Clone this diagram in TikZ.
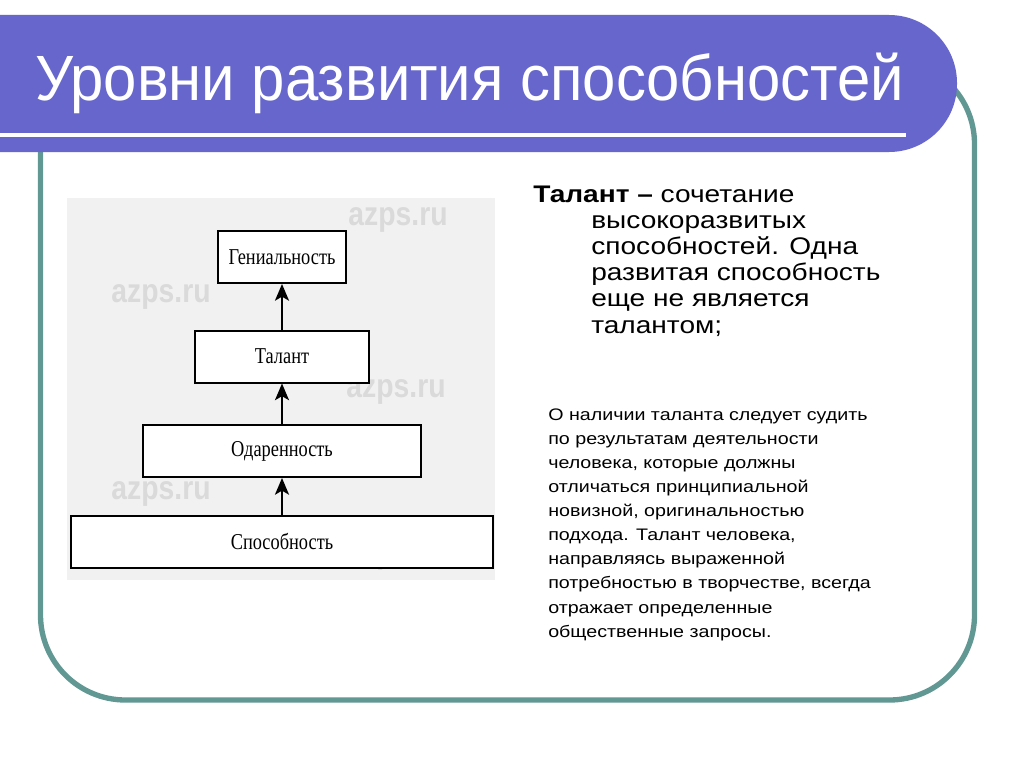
\documentclass[tikz,border=0pt]{standalone}
\usepackage{fontspec}
\setmainfont{Liberation Sans}
\newfontfamily\boxserif{Liberation Serif}
\usetikzlibrary{arrows.meta}
\definecolor{banner}{RGB}{102,102,204}
\definecolor{frameteal}{RGB}{98,152,148}
\definecolor{diagbg}{RGB}{241,241,241}
\definecolor{wmark}{RGB}{218,218,218}
\begin{document}
\begin{tikzpicture}[x=0.75pt,y=-0.75pt,
  levelbox/.style={draw=black, fill=white, line width=1.5pt, minimum height=39pt, inner sep=0pt, font=\boxserif\fontsize{17}{20}\selectfont},
  uparrow/.style={-{Stealth[length=12.5pt,width=10.5pt,inset=3pt]}, line width=1.6pt},
  watermark/.style={text=wmark, font=\bfseries\fontsize{25}{30}\selectfont, inner sep=0pt}]
\useasboundingbox (0,0) rectangle (1024,767);
\fill[white] (0,0) rectangle (1024,767);
% frame
\draw[frameteal, line width=4pt, rounded corners=63.75pt] (40.5,59) rectangle (974.5,700);
% banner
\fill[banner, rounded corners=51pt] (-100,15) rectangle (957,152);
\fill[white] (0,133.3) rectangle (906,137.3);
\node[anchor=base west, inner sep=0, text=white, font=\fontsize{48}{56}\selectfont] (title) at (35,100) {\scalebox{0.935}[1]{Уровни развития способностей}};
% diagram picture
\fill[diagbg] (67,198) rectangle (495,580);
\node[watermark] (w1) at (398,220) {\scalebox{0.85}[1]{azps.ru}};
\node[watermark] (w2) at (161,297) {\scalebox{0.85}[1]{azps.ru}};
\node[watermark] (w3) at (396,392) {\scalebox{0.85}[1]{azps.ru}};
\node[watermark] (w4) at (161,494) {\scalebox{0.85}[1]{azps.ru}};
\node[watermark] (w5) at (396,558) {\scalebox{0.85}[1]{azps.ru}};
\node[levelbox, minimum width=96pt] (gen) at (282,257) {\scalebox{0.81}[1]{Гениальность}};
\node[levelbox, minimum width=130.5pt] (tal) at (282,356.5) {\scalebox{0.81}[1]{Талант}};
\node[levelbox, minimum width=208.5pt] (oda) at (282,451) {\scalebox{0.81}[1]{Одаренность}};
\node[levelbox, minimum width=316.5pt] (spo) at (282,541.5) {\scalebox{0.81}[1]{Способность}};
\draw[uparrow] (tal.north) -- (gen.south);
\draw[uparrow] (oda.north) -- (tal.south);
\draw[uparrow] (spo.north) -- (oda.south);
% right texts
\node[anchor=base west, inner sep=0, font=\fontsize{18}{19.65}\selectfont] (def) at (533,202) {\scalebox{1.17}[1]{\parbox[t]{330pt}{\hangindent=37.2pt\hangafter=1\noindent\textbf{Талант –} сочетание\\высокоразвитых\\способностей. Одна\\развитая способность\\еще не является\\талантом;}}};
\node[anchor=base west, inner sep=0, font=\fontsize{12.5}{18.1}\selectfont] (note) at (548,420) {\scalebox{1.18}[1]{\parbox[t]{260pt}{\noindent О наличии таланта следует судить\\по результатам деятельности\\человека, которые должны\\отличаться принципиальной\\новизной, оригинальностью\\подхода. Талант человека,\\направляясь выраженной\\потребностью в творчестве, всегда\\отражает определенные\\общественные запросы.}}};
\end{tikzpicture}
\end{document}
